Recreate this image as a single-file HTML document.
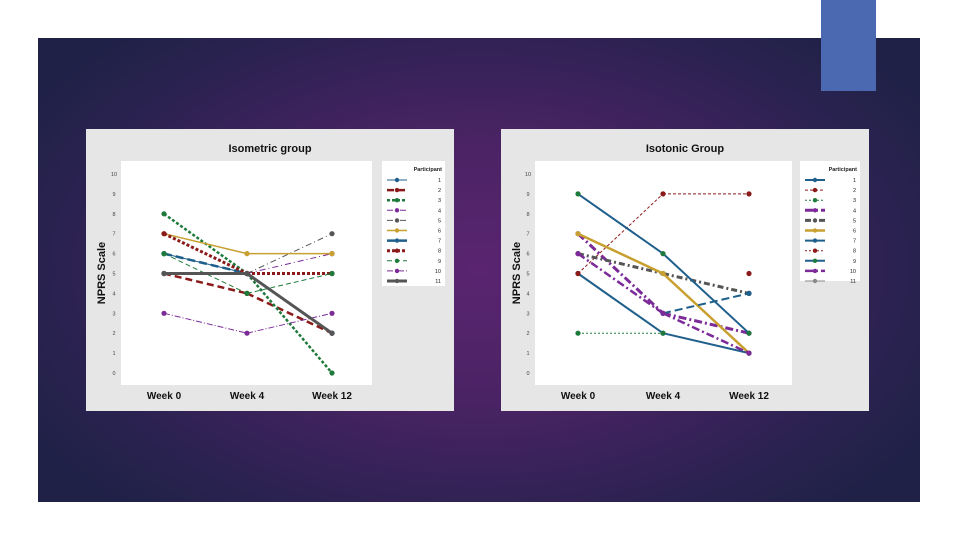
<!DOCTYPE html>
<html><head><meta charset="utf-8">
<style>
html,body{margin:0;padding:0;width:960px;height:540px;overflow:hidden;background:#fff;font-family:"Liberation Sans",sans-serif}
#slide{position:absolute;left:38px;top:38px;width:882px;height:464px;background:radial-gradient(ellipse 60% 70% at 50% 50%,#5a2470 0%,#4a2364 40%,#2a2250 80%,#1f2147 100%)}
#accent{position:absolute;left:821px;top:0;width:55px;height:91px;background:#4a69b0}
svg{position:absolute;top:0;left:0}
</style></head><body>
<div id="slide"></div>
<div id="accent"></div>
<svg id="chart" width="960" height="540"></svg>
<script>
const weeks=["Week 0","Week 4","Week 12"];
const yTicks=[0,1,2,3,4,5,6,7,8,9,10];
const participants=["1","2","3","4","5","6","7","8","9","10","11"];
const isoValues=[[6,5,2],[5,4,2],[8,5,0],[5,5,6],[5,5,7],[7,6,6],[6,5,2],[7,5,5],[6,4,5],[3,2,3],[5,5,2]];
const istValues=[[5,2,1],[5,9,9],[2,2,null],[7,3,2],[6,5,4],[7,5,1],[null,3,4],[null,null,5],[9,6,2],[6,3,1],[null,null,null]];
const styles=[
 {c:"#1f5f8b",w:1,d:"",m:"#1f5f8b"},
 {c:"#8b1a1a",w:2.5,d:"7,4",m:"#8b1a1a"},
 {c:"#1e7a3a",w:2.5,d:"3,2",m:"#1e7a3a"},
 {c:"#7b2a98",w:1,d:"6,3,1,3",m:"#7b2a98"},
 {c:"#555",w:1,d:"6,3,1,3",m:"#555"},
 {c:"#c8a030",w:1.5,d:"",m:"#c8a030"},
 {c:"#1f5f8b",w:2.5,d:"8,4",m:"#1f5f8b"},
 {c:"#8b1a1a",w:3,d:"3,2",m:"#8b1a1a"},
 {c:"#1e7a3a",w:1,d:"5,3",m:"#1e7a3a"},
 {c:"#7b2a98",w:1,d:"6,2,1,2",m:"#7b2a98"},
 {c:"#555",w:3,d:"",m:"#555"}];
const istStyles=[
 {c:"#1f5f8b",w:2,d:"",m:"#1f5f8b"},
 {c:"#8b1a1a",w:1,d:"3,2",m:"#8b1a1a"},
 {c:"#1e7a3a",w:1,d:"2,2",m:"#1e7a3a"},
 {c:"#7b2a98",w:3,d:"8,3,2,3",m:"#7b2a98"},
 {c:"#555",w:3,d:"6,3,2,3",m:"#555"},
 {c:"#c8a030",w:2.5,d:"",m:"#c8a030"},
 {c:"#1f5f8b",w:2,d:"8,4",m:"#1f5f8b"},
 {c:"#8b1a1a",w:1,d:"2,2",m:"#8b1a1a"},
 {c:"#1f5f8b",w:2,d:"",m:"#1e7a3a"},
 {c:"#7b2a98",w:2.5,d:"8,3,2,3",m:"#7b2a98"},
 {c:"#888",w:1,d:"",m:"#888"}];
const NS="http://www.w3.org/2000/svg";
const svg=document.getElementById('chart');
function mk(tag,attrs,parent){const e=document.createElementNS(NS,tag);for(const k in attrs)e.setAttribute(k,attrs[k]);(parent||svg).appendChild(e);return e;}
function draw(cfg){
 const g=mk('g',{});
 
 
 const bg=mk('rect',{x:cfg.px,y:129,width:368,height:282,fill:'#e6e6e6'},g);
 
 const pa=mk('rect',{x:cfg.ax,y:161,width:cfg.aw,height:224,fill:'#fff'},g);
 
 const yS=v=>373-v*19.9;
 const xS=i=>cfg.wx[i];
 const t=mk('text',{x:cfg.px+184,y:152,'text-anchor':'middle','font-size':11,'font-weight':'bold',fill:'#111'},g);
 t.textContent=cfg.title;
 const yt=mk('text',{transform:`translate(${cfg.px+19},${273}) rotate(-90)`,'text-anchor':'middle','font-size':11,'font-weight':'bold',fill:'#111'},g);
 yt.textContent='NPRS Scale';
 yTicks.forEach(v=>{const l=mk('text',{x:cfg.ax-7,y:yS(v)+2,'text-anchor':'middle','font-size':5.5,fill:'#444'},g);l.textContent=v;
  });
 weeks.forEach((w,i)=>{const l=mk('text',{x:xS(i),y:399,'text-anchor':'middle','font-size':10,'font-weight':'bold',fill:'#111'},g);l.textContent=w;
  });
 cfg.data.forEach((vals,si)=>{const s=cfg.styles[si];let pts=[];
  vals.forEach((v,i)=>{if(v!==null)pts.push([xS(i),yS(v)]);});
  for(let i=0;i<vals.length-1;i++){if(vals[i]!==null&&vals[i+1]!==null){
   const ln=mk('line',{x1:xS(i),y1:yS(vals[i]),x2:xS(i+1),y2:yS(vals[i+1]),stroke:s.c,'stroke-width':s.w,'stroke-dasharray':s.d},g);
   }}
  pts.forEach(p=>{const m=mk('circle',{cx:p[0],cy:p[1],r:2.6,fill:s.m},g);
   });
 });
 const lg=mk('rect',{x:cfg.lx,y:161,width:cfg.lw,height:cfg.lh,fill:'#fff'},g);
 
 const lt=mk('text',{x:cfg.lx+cfg.lw-3,y:171,'text-anchor':'end','font-size':5.5,'font-weight':'bold',fill:'#222'},g);
 lt.textContent='Participant';
 participants.forEach((p,i)=>{const s=cfg.styles[i];const yy=180+i*10.1;
  const ll=mk('line',{x1:cfg.lx+5,y1:yy,x2:cfg.lx+25,y2:yy,stroke:s.c,'stroke-width':s.w,'stroke-dasharray':s.d},g);
  
  const lm=mk('circle',{cx:cfg.lx+15,cy:yy,r:2.2,fill:s.m},g);
  
  const tx=mk('text',{x:cfg.lx+cfg.lw-4,y:yy+2,'text-anchor':'end','font-size':5.5,fill:'#222'},g);tx.textContent=p;
  });
}
draw({name:'isometric-chart',px:86,ax:121,aw:251,wx:[164,247,332],title:'Isometric group',data:isoValues,styles:styles,lx:382,lw:63,lh:125});
draw({name:'isotonic-chart',px:501,ax:535,aw:257,wx:[578,663,749],title:'Isotonic Group',data:istValues,styles:istStyles,lx:800,lw:60,lh:120});
</script>
</body></html>
